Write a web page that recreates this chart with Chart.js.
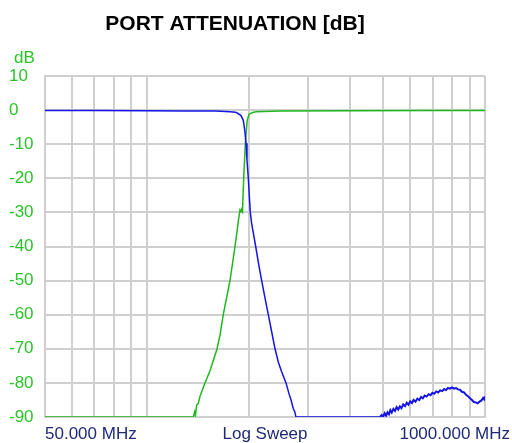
<!DOCTYPE html>
<html>
<head>
<meta charset="utf-8">
<script src="https://cdn.jsdelivr.net/npm/chart.js@4.4.1/dist/chart.umd.min.js"></script>
<style>
    html, body { margin: 0; padding: 0; background: #fff; }
    canvas { display: block; }
</style>
</head>
<body>
<canvas id="attChart" width="512" height="443"></canvas>
<script>
const TITLE_TEXT = 'PORT ATTENUATION [dB]';
const Y_UNIT = 'dB';
const START_LABEL = '50.000 MHz';
const MID_LABEL = 'Log Sweep';
const STOP_LABEL = '1000.000 MHz';

// частоты сетки (МГц)
const xGridMHz = [50, 60, 70, 80, 90, 100, 200, 300, 400, 500, 600, 700, 800, 900, 1000];
const yTicksDb = [10, 0, -10, -20, -30, -40, -50, -60, -70, -80, -90];

// порт 1 (синий) — ФНЧ
const blueFreq = [50, 70, 100, 130, 160, 176, 183, 186.1, 189.9, 192.9, 195.1, 196.5, 197.8, 199.6, 200.9, 202.3,
    204, 205.6, 209.9, 214, 218.6, 223.5, 228.7, 234, 239.4, 245, 250, 258, 263, 267, 271, 274, 276,
    300, 400, 489, 495, 500, 505, 510, 515, 520, 525, 530, 536, 542, 548, 554, 560, 566, 573, 580, 587,
    594, 601, 608, 615, 623, 631, 639, 647, 655, 663, 672, 681, 690, 699, 708, 717, 727, 737, 747, 757,
    767, 777, 788, 799, 810, 821, 832, 843, 855, 867, 879, 891, 903, 915, 927, 939, 951, 963, 975, 987,
    994, 1000];
const blueDb = [-0.1, -0.15, -0.2, -0.25, -0.3, -0.45, -0.6, -1.0, -1.6, -3, -6.4, -9.7, -14.7, -20, -25, -30,
    -33, -35, -40, -45, -50, -55, -60, -65, -70, -74, -76.5, -80, -83, -85, -87.5, -88.5, -90,
    -90, -90, -90, -89.4, -89.9, -88.9, -89.6, -88.6, -89.2, -88.0, -88.7, -87.6, -88.2, -87.1, -87.8, -86.9, -87.4, -86.3, -86.8, -85.8,
    -86.4, -85.4, -85.9, -85.0, -85.5, -84.6, -85.0, -84.1, -84.5, -83.7, -84.0, -83.3, -83.6, -82.9, -83.2, -82.5, -82.8, -82.2, -82.4, -81.8,
    -82.1, -81.5, -81.7, -81.3, -81.7, -81.5, -81.9, -82.0, -82.6, -82.8, -83.5, -83.9, -84.5, -85.0, -85.6, -85.7, -86.0, -85.5, -85.2, -84.4,
    -84.8, -84.0];

// порт 2 (зелёный) — ФВЧ
const greenFreq = [50, 100, 137.3, 138.5, 139.3, 140.4, 142, 143.6, 148.6, 153.7, 161, 164.6, 168.3, 176.2, 182.3,
    185.2, 186.5, 188.6, 189.9, 190.8, 191.8, 193.4, 195.8, 198.1, 200.6, 205.7, 210.2, 247.7, 400, 700, 1000];
const greenDb = [-90, -90, -90, -88.5, -89.5, -86.5, -86, -84, -80, -76.5, -70.3, -66, -60, -50, -40,
    -35, -32.5, -29.3, -29.8, -29.3, -29.8, -20, -9, -3, -1.2, -0.7, -0.5, -0.3, -0.2, -0.15, -0.15];

const toPoints = (xs, ys) => xs.map((x, i) => ({ x: x, y: ys[i] }));

const textPlugin = {
    id: 'textPlugin',
    afterDraw(chart) {
        const ctx = chart.ctx;
        const a = chart.chartArea;
        ctx.save();
        ctx.textBaseline = 'alphabetic';
        ctx.font = 'bold 21px "Liberation Sans", Arial, sans-serif';
        ctx.fillStyle = '#000';
        ctx.textAlign = 'center';
        ctx.fillText(TITLE_TEXT, 235, 30);

        ctx.font = '17px "Liberation Sans", Arial, sans-serif';
        ctx.fillStyle = '#2ac42a';
        ctx.textAlign = 'left';
        ctx.fillText(Y_UNIT, 14, 63);

        ctx.fillStyle = '#1e2a78';
        ctx.fillText(START_LABEL, a.left, 439);
        ctx.textAlign = 'center';
        ctx.fillText(MID_LABEL, (a.left + a.right) / 2, 439);
        ctx.textAlign = 'right';
        ctx.fillText(STOP_LABEL, 510, 439);
        ctx.restore();
    }
};

const ctx = document.getElementById('attChart').getContext('2d');
const chart = new Chart(ctx, {
    type: 'line',
    data: {
        datasets: [{
            label: 'S21',
            data: toPoints(blueFreq, blueDb),
            borderColor: '#1414e6',
            borderWidth: 1.5,
            pointRadius: 0,
            tension: 0,
            segment: { borderWidth: c => (c.p0.parsed.x >= 489 ? 2 : 1.5) }
        }, {
            label: 'S31',
            data: toPoints(greenFreq, greenDb),
            borderColor: '#1fb81f',
            borderWidth: 1.5,
            pointRadius: 0,
            tension: 0
        }]
    },
    options: {
        responsive: false,
        animation: false,
        devicePixelRatio: 1,
        layout: { padding: { left: 9, right: 27, top: 76, bottom: 26 } },
        plugins: {
            legend: { display: false },
            title: { display: false },
            tooltip: { enabled: false }
        },
        scales: {
            x: {
                type: 'logarithmic',
                min: 50,
                max: 1000,
                afterBuildTicks: s => { s.ticks = xGridMHz.map(v => ({ value: v })); },
                afterFit: s => { s.height = 0; },
                ticks: { display: false },
                grid: { color: '#cfcfcf', lineWidth: 2, drawTicks: false },
                border: { color: '#cfcfcf', width: 2 }
            },
            y: {
                min: -90,
                max: 10,
                afterBuildTicks: s => { s.ticks = yTicksDb.map(v => ({ value: v })); },
                afterFit: s => { s.width = 36; },
                ticks: {
                    color: '#2ac42a',
                    crossAlign: 'far',
                    font: { family: '"Liberation Sans", Arial, sans-serif', size: 17 }
                },
                grid: { color: '#cfcfcf', lineWidth: 2, drawTicks: false },
                border: { color: '#cfcfcf', width: 2 }
            }
        }
    },
    plugins: [textPlugin]
});
</script>
</body>
</html>
